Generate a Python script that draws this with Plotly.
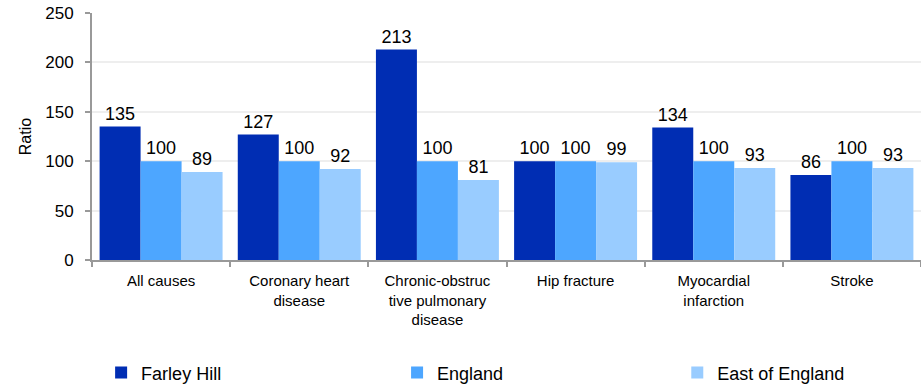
import plotly.graph_objects as go

categories = [
    "All causes",
    "Coronary heart<br>disease",
    "Chronic-obstruc<br>tive pulmonary<br>disease",
    "Hip fracture",
    "Myocardial<br>infarction",
    "Stroke",
]
farley_hill = [135, 127, 213, 100, 134, 86]
england = [100, 100, 100, 100, 100, 100]
east_of_england = [89, 92, 81, 99, 93, 93]

series = [
    ("Farley Hill", farley_hill, "#002DB3"),
    ("England", england, "#4DA6FF"),
    ("East of England", east_of_england, "#99CCFF"),
]

# each series gets its own legend box, spread across the bottom
legend_ids = ["legend", "legend2", "legend3"]
legend_x = [0.011, 0.368, 0.706]

fig = go.Figure()
for (name, values, color), lid in zip(series, legend_ids):
    fig.add_trace(go.Bar(
        x=categories,
        y=values,
        name=name,
        legend=lid,
        marker=dict(color=color, line=dict(width=0)),
        text=[str(v) for v in values],
        textposition="outside",
        textfont=dict(size=18, color="#000000"),
        cliponaxis=False,
    ))

legend_style = dict(
    orientation="h",
    xanchor="left",
    y=-0.457,
    yanchor="middle",
    font=dict(size=18),
    itemwidth=30,
    bgcolor="rgba(0,0,0,0)",
)

fig.update_layout(
    width=921,
    height=385,
    margin=dict(l=92, r=0, t=13, b=125, autoexpand=False),
    paper_bgcolor="white",
    plot_bgcolor="white",
    font=dict(family="Liberation Sans, Arial, sans-serif", color="#000000"),
    barmode="group",
    bargap=0.11,
    bargroupgap=0,
    showlegend=True,
    legend=dict(x=legend_x[0], **legend_style),
    legend2=dict(x=legend_x[1], **legend_style),
    legend3=dict(x=legend_x[2], **legend_style),
    xaxis=dict(
        showline=True,
        linecolor="#999999",
        linewidth=2,
        ticks="outside",
        tickson="boundaries",
        ticklen=5,
        tickcolor="#999999",
        tickwidth=2,
        tickfont=dict(size=15),
        ticklabelstandoff=6,
        showgrid=False,
    ),
    yaxis=dict(
        range=[0, 250],
        dtick=50,
        showline=True,
        linecolor="#999999",
        linewidth=2,
        ticks="outside",
        ticklen=5,
        tickcolor="#999999",
        tickwidth=2,
        tickfont=dict(size=17),
        ticklabelstandoff=8,
        showgrid=True,
        gridcolor="#EEEEEE",
        gridwidth=2,
        zeroline=False,
        title=dict(text="Ratio", font=dict(size=16), standoff=10),
    ),
)

fig.write_html("out.html")
